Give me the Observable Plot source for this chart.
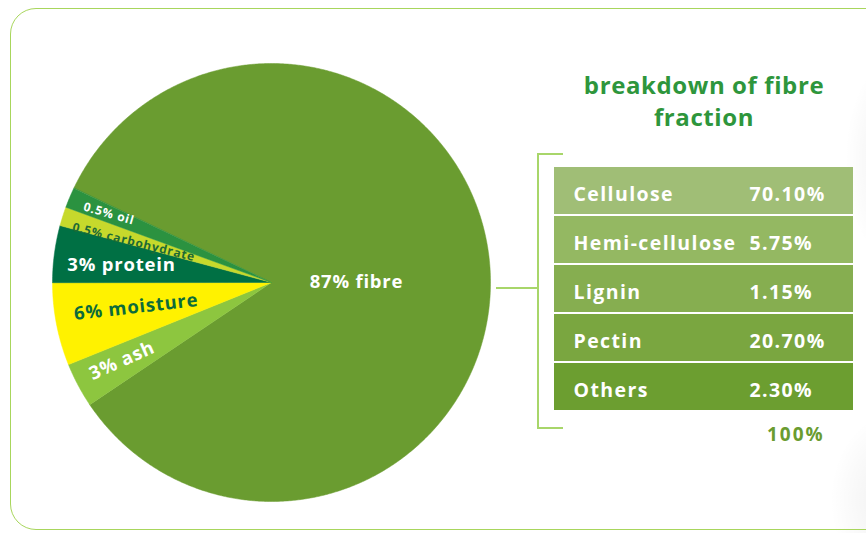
<!DOCTYPE html>
<html>
<head>
<meta charset="utf-8">
<script src="https://cdn.jsdelivr.net/npm/d3@7"></script>
<script src="https://cdn.jsdelivr.net/npm/@observablehq/plot@0.6"></script>
<style>
  html, body { margin: 0; padding: 0; background: #fff; }
  #page { position: relative; width: 866px; height: 533px; overflow: hidden; font-family: "Open Sans", sans-serif; background: #fff; }
  #shade { position: absolute; inset: 0;
    background:
      radial-gradient(ellipse 60px 110px at 905px 160px, rgba(0,0,0,0.08), rgba(0,0,0,0) 100%),
      radial-gradient(ellipse 70px 90px at 900px 500px, rgba(0,0,0,0.07), rgba(0,0,0,0) 100%); }
  #frame { position: absolute; left: 10px; top: 8px; width: 920px; height: 522px; border: 1.6px solid #a8d65c; border-radius: 26px; box-sizing: border-box; }
  .br { position: absolute; background: #a8d66a; }
  #title { position: absolute; left: 554px; top: 69px; width: 300px; text-align: center; font-weight: 700; font-size: 24px; line-height: 32px; color: #2e963c; letter-spacing: 0.6px; }
  #total { position: absolute; left: 767px; top: 425px; font-weight: 700; font-size: 19px; line-height: 19px; color: #6a9c30; letter-spacing: 2px; }
  #pie { position: absolute; left: 41px; top: 52px; }
  #table { position: absolute; left: 554px; top: 165px; }
</style>
</head>
<body>
<div id="page">
  <div id="shade"></div>
  <div id="frame"></div>
  <div class="br" style="left:537px;top:153px;width:2px;height:276px;"></div>
  <div class="br" style="left:537px;top:153px;width:26px;height:2px;"></div>
  <div class="br" style="left:537px;top:427px;width:26px;height:2px;"></div>
  <div class="br" style="left:496px;top:287px;width:42px;height:2px;"></div>
  <div id="title"></div>
  <div id="pie"></div>
  <div id="table"></div>
  <div id="total"></div>
</div>
<script>
// ---------- data ----------
const slices      = ["fibre", "ash", "moisture", "protein", "carbohydrate", "oil"];
const labelPct    = ["87%", "3%", "6%", "3%", "0.5%", "0.5%"];
// share of the circle each slice occupies as drawn in the picture (small slices are widened there)
const sliceShare  = [83.5, 3.3, 6.1, 4.2, 1.4, 1.5];

const titleLines  = ["breakdown of fibre", "fraction"];
const fibreParts  = ["Cellulose", "Hemi-cellulose", "Lignin", "Pectin", "Others"];
const fibreValues = [70.10, 5.75, 1.15, 20.70, 2.30];

// ---------- styles / layout ----------
const sliceColors = ["#6a9c30", "#8dc63f", "#fff200", "#007044", "#c6d92c", "#2b9240"];
const rowColors   = ["#a0be76", "#94b862", "#86ae50", "#7aa640", "#6c9e30"];
// label placement: angle (deg clockwise from 12 o'clock), radius fraction, rotation, font size, colour
const labelLayout = [
  [90,    0.388, 0,    18.5, "#ffffff"],
  [242.4, 0.77,  -24,  18.5, "#ffffff"],
  [259.7, 0.628, -6.5, 18.5, "#0b6b3b"],
  [276.8, 0.69,  0,    18.5, "#ffffff"],
  [286.3, 0.655, 14,   12,   "#1d6a35"],
  [292.9, 0.806, 16,   12,   "#ffffff"]
];
const startDeg = 295.5;

// ---------- pie ----------
const rad = Math.PI / 180;
const arcs = d3.pie().sort(null).value((d, i) => sliceShare[i])
  .startAngle(startDeg * rad).endAngle(startDeg * rad + 2 * Math.PI)(slices);

const piePts = [];
arcs.forEach((a, i) => {
  const color = sliceColors[i];
  piePts.push({slice: a.data, color, x: 0, y: 0});
  const n = Math.max(2, Math.ceil((a.endAngle - a.startAngle) / (0.4 * rad)));
  for (let k = 0; k <= n; k++) {
    const t = a.startAngle + (a.endAngle - a.startAngle) * k / n;
    piePts.push({slice: a.data, color, x: Math.sin(t), y: Math.cos(t)});
  }
});

const labelMarks = slices.map((s, i) => {
  const [ang, rf, rot, size, col] = labelLayout[i];
  return Plot.text([s], {
    x: () => rf * Math.sin(ang * rad),
    y: () => rf * Math.cos(ang * rad),
    text: d => `${labelPct[i]} ${d}`,
    rotate: rot, fontSize: size, fontWeight: "bold", fill: col,
    textAnchor: "middle"
  });
});

const pie = Plot.plot({
  width: 460, height: 460, margin: 11,
  x: {domain: [-1, 1], axis: null},
  y: {domain: [-1, 1], axis: null},
  color: {type: "identity"},
  style: {background: "transparent", fontFamily: "'Open Sans', sans-serif", overflow: "visible"},
  marks: [
    Plot.line(piePts, {x: "x", y: "y", z: "slice", fill: "color", stroke: "color", strokeWidth: 0.5, curve: "linear-closed"}),
    ...labelMarks
  ]
});
pie.style.letterSpacing = "0.8px";
document.getElementById("pie").appendChild(pie);

// ---------- table ----------
const table = Plot.plot({
  width: 299, height: 247, margin: 0,
  x: {domain: [0, 1], axis: null},
  y: {domain: fibreParts, axis: null, paddingInner: 0.04, paddingOuter: 0},
  color: {type: "identity"},
  style: {background: "transparent", fontFamily: "'Open Sans', sans-serif", overflow: "visible"},
  marks: [
    Plot.barX(fibreParts, {x: () => 1, y: d => d, fill: (d, i) => rowColors[i]}),
    Plot.text(fibreParts, {y: d => d, text: d => d, frameAnchor: "left", textAnchor: "start",
      dx: 19, dy: 4, fill: "white", fontSize: 19.5, fontWeight: "bold"}),
    Plot.text(fibreValues, {y: (d, i) => fibreParts[i], text: d => d.toFixed(2) + "%", frameAnchor: "left",
      textAnchor: "start", dx: 195, dy: 4, fill: "white", fontSize: 19.5, fontWeight: "bold"})
  ]
});
table.style.letterSpacing = "1.4px";
document.getElementById("table").appendChild(table);

// ---------- texts ----------
document.getElementById("title").innerHTML = titleLines.join("<br>");
document.getElementById("total").textContent = Math.round(d3.sum(fibreValues)) + "%";
</script>
</body>
</html>
